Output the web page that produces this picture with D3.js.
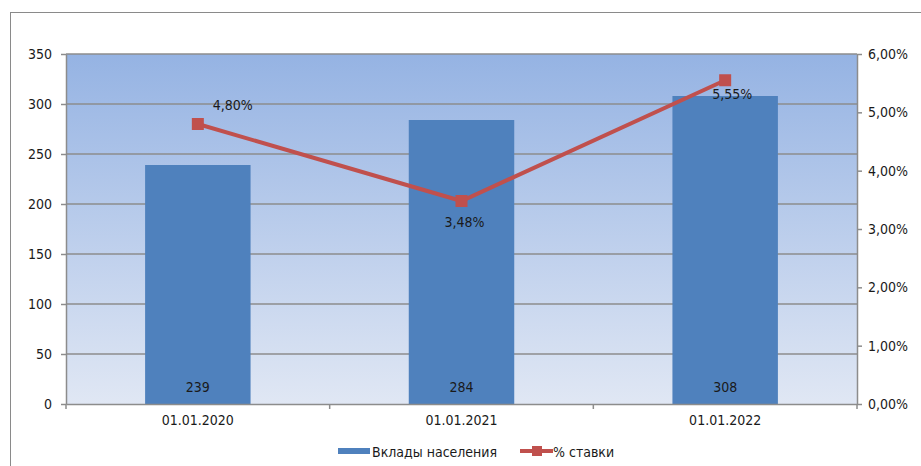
<!DOCTYPE html>
<html><head><meta charset="utf-8">
<script src="https://cdn.jsdelivr.net/npm/d3@7"></script>
<style>
html,body{margin:0;padding:0;background:#fff;}
svg text{font-family:"DejaVu Sans Condensed","DejaVu Sans",sans-serif;font-stretch:condensed;fill:#1a1a1a;}
</style></head>
<body>
<svg id="chart" width="921" height="466"></svg>
<script>
const categories = ["01.01.2020", "01.01.2021", "01.01.2022"];
const deposits = [239, 284, 308];
const rates = [4.80, 3.48, 5.55];
const leftTicks = [0, 50, 100, 150, 200, 250, 300, 350];
const rightTicks = [0, 1, 2, 3, 4, 5, 6];
const seriesNames = ["Вклады населения", "% ставки"];
const rateLabelOffsets = [[35, -19], [3, 21], [7, 14]];

const svg = d3.select("#chart");
const W = 921, H = 466;
const m = {left: 66, right: 857, top: 54, bottom: 404};
const fmtPct = v => v.toFixed(2).replace(".", ",") + "%";

// outer frame
svg.append("rect").attr("x", 10.5).attr("y", 12.5).attr("width", 940).attr("height", 500)
  .attr("fill", "none").attr("stroke", "#8a8a8a").attr("stroke-width", 1);

const defs = svg.append("defs");
const grad = defs.append("linearGradient").attr("id", "bg").attr("x1", 0).attr("x2", 0).attr("y1", 0).attr("y2", 1);
grad.append("stop").attr("offset", "0%").attr("stop-color", "#95b3e3");
grad.append("stop").attr("offset", "100%").attr("stop-color", "#e0e7f4");

const x = d3.scaleBand().domain(categories).range([m.left, m.right]).paddingInner(0.6).paddingOuter(0.3);
const y = d3.scaleLinear().domain([0, 350]).range([m.bottom, m.top]);
const y2 = d3.scaleLinear().domain([0, 6]).range([m.bottom, m.top]);

svg.append("rect").attr("x", m.left).attr("y", m.top).attr("width", m.right - m.left).attr("height", m.bottom - m.top)
  .attr("fill", "url(#bg)");

// gridlines
svg.append("g").selectAll("line").data(leftTicks.filter(d => d > 0)).join("line")
  .attr("x1", m.left).attr("x2", m.right).attr("y1", d => y(d)).attr("y2", d => y(d))
  .attr("stroke", "#8c8c8c").attr("stroke-width", 1.5);

// bars
svg.append("g").selectAll("rect").data(deposits).join("rect")
  .attr("x", (d, i) => x(categories[i])).attr("width", x.bandwidth())
  .attr("y", d => y(d)).attr("height", d => y(0) - y(d))
  .attr("fill", "#4f81bd");

svg.append("g").selectAll("text").data(deposits).join("text")
  .attr("x", (d, i) => x(categories[i]) + x.bandwidth() / 2).attr("y", y(0) - 17)
  .attr("dy", "0.35em").attr("text-anchor", "middle").attr("font-size", 14).text(d => d);

// axes
const axStyle = g => {
  g.select(".domain").attr("stroke", "#8c8c8c").attr("stroke-width", 1.5);
  g.selectAll(".tick line").attr("stroke", "#8c8c8c").attr("stroke-width", 1.5);
  g.selectAll("text").attr("font-size", 14).attr("fill", "#1a1a1a");
  g.attr("font-family", null);
};
svg.append("g").attr("transform", `translate(${m.left},0)`)
  .call(d3.axisLeft(y).tickValues(leftTicks).tickSize(5).tickSizeOuter(0).tickPadding(9)).call(axStyle);
svg.append("g").attr("transform", `translate(${m.right},0)`)
  .call(d3.axisRight(y2).tickValues(rightTicks).tickSize(5).tickSizeOuter(0).tickPadding(6).tickFormat(fmtPct)).call(axStyle);

const xa = svg.append("g").attr("transform", `translate(0,${m.bottom})`)
  .call(d3.axisBottom(x).tickSize(0).tickSizeOuter(0).tickPadding(11)).call(axStyle);
// category boundary ticks
const step = x.step();
const bounds = d3.range(categories.length + 1).map(i => m.left + i * (m.right - m.left) / categories.length);
svg.append("g").selectAll("line").data(bounds).join("line")
  .attr("x1", d => d).attr("x2", d => d).attr("y1", m.bottom).attr("y2", m.bottom + 5)
  .attr("stroke", "#8c8c8c").attr("stroke-width", 1.5);

// line series
const cx = i => x(categories[i]) + x.bandwidth() / 2;
const line = d3.line().x((d, i) => cx(i)).y(d => y2(d));
svg.append("path").datum(rates).attr("d", line).attr("fill", "none")
  .attr("stroke", "#c0504d").attr("stroke-width", 4);
svg.append("g").selectAll("rect").data(rates).join("rect")
  .attr("x", (d, i) => cx(i) - 6).attr("y", d => y2(d) - 6).attr("width", 12).attr("height", 12)
  .attr("fill", "#c0504d");
svg.append("g").selectAll("text").data(rates).join("text")
  .attr("x", (d, i) => cx(i) + rateLabelOffsets[i][0]).attr("y", (d, i) => y2(d) + rateLabelOffsets[i][1])
  .attr("dy", "0.35em").attr("text-anchor", "middle").attr("font-size", 14).text(fmtPct);

// legend
const lg = svg.append("g");
lg.append("rect").attr("x", 338).attr("y", 448).attr("width", 32).attr("height", 6).attr("fill", "#4f81bd");
lg.append("text").attr("x", 372).attr("y", 452).attr("dy", "0.35em").attr("font-size", 14).text(seriesNames[0]);
lg.append("line").attr("x1", 520).attr("x2", 553).attr("y1", 451).attr("y2", 451).attr("stroke", "#c0504d").attr("stroke-width", 4);
lg.append("rect").attr("x", 532).attr("y", 446).attr("width", 10).attr("height", 10).attr("fill", "#c0504d");
lg.append("text").attr("x", 553).attr("y", 452).attr("dy", "0.35em").attr("font-size", 14).text(seriesNames[1]);
</script>
</body></html>
